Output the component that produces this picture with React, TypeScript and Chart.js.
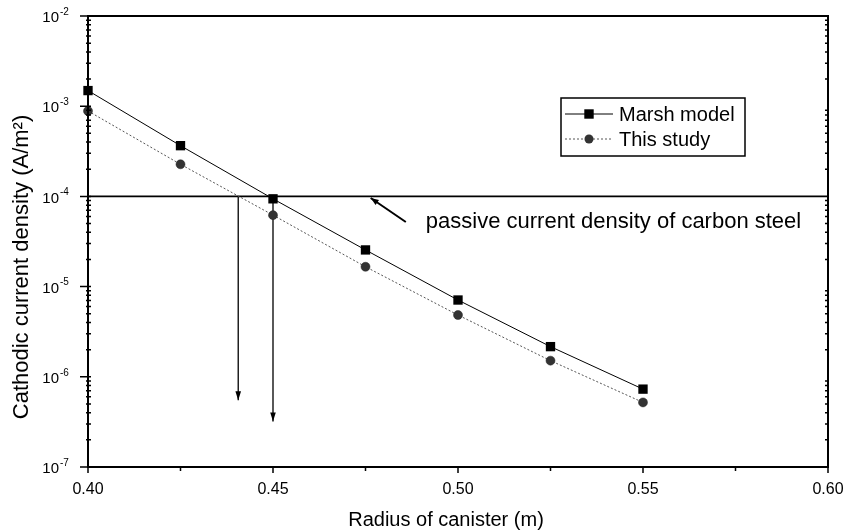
import React, { useEffect, useRef } from "react";
import { Chart, registerables } from "chart.js";
Chart.register(...registerables);

// ---- data ----
const radius = [0.4, 0.425, 0.45, 0.475, 0.5, 0.525, 0.55];
const marshModel = [1.49e-3, 3.65e-4, 9.4e-5, 2.55e-5, 7.1e-6, 2.16e-6, 7.3e-7];
const thisStudy = [8.85e-4, 2.27e-4, 6.2e-5, 1.66e-5, 4.84e-6, 1.51e-6, 5.2e-7];
const seriesNames = ["Marsh model", "This study"];
const passiveLevel = 1e-4;
const passiveRange = [0.4, 0.6];
const dropX = [0.4406, 0.45];
const dropEnd = [5.5e-7, 3.2e-7];
const noteArrowX = [0.4859, 0.4764];
const noteArrowY = [5.2e-5, 9.6e-5];
const noteText = "passive current density of carbon steel";
const noteTextX = 0.4913;
const noteTextY = 5.2e-5;
const xMajorTicks = [0.4, 0.45, 0.5, 0.55, 0.6];
const xMinorTicks = [0.425, 0.475, 0.525, 0.575];
const yExponents = [-7, -6, -5, -4, -3, -2];
const xTitle = "Radius of canister (m)";
const yTitle = "Cathodic current density (A/m²)";

const FONT = "'Liberation Sans', Arial, sans-serif";

function arrowHead(ctx: CanvasRenderingContext2D, x1: number, y1: number, x2: number, y2: number, len: number, half: number) {
  const ang = Math.atan2(y2 - y1, x2 - x1);
  ctx.beginPath();
  ctx.moveTo(x2, y2);
  ctx.lineTo(x2 - len * Math.cos(ang) + half * Math.sin(ang), y2 - len * Math.sin(ang) - half * Math.cos(ang));
  ctx.lineTo(x2 - len * Math.cos(ang) - half * Math.sin(ang), y2 - len * Math.sin(ang) + half * Math.cos(ang));
  ctx.closePath();
  ctx.fill();
}

const decor = {
  id: "decor",
  afterDraw(chart: any) {
    const { ctx, chartArea: a, scales } = chart;
    const xs = scales.x;
    const ys = scales.y;
    ctx.save();
    ctx.strokeStyle = "#000";
    ctx.fillStyle = "#000";

    // frame
    ctx.lineWidth = 2;
    ctx.strokeRect(a.left, a.top, a.right - a.left, a.bottom - a.top);

    // x ticks
    ctx.lineWidth = 1.5;
    ctx.beginPath();
    xMajorTicks.forEach((v) => {
      const px = xs.getPixelForValue(v);
      ctx.moveTo(px, a.bottom);
      ctx.lineTo(px, a.bottom + 6);
    });
    xMinorTicks.forEach((v) => {
      const px = xs.getPixelForValue(v);
      ctx.moveTo(px, a.bottom);
      ctx.lineTo(px, a.bottom + 4);
    });
    ctx.stroke();

    // y ticks (left and right)
    ctx.beginPath();
    yExponents.forEach((e) => {
      const py = ys.getPixelForValue(Math.pow(10, e));
      ctx.moveTo(a.left - 8, py);
      ctx.lineTo(a.left + 3, py);
      if (e < -2) {
        for (let m = 2; m <= 9; m++) {
          const my = ys.getPixelForValue(m * Math.pow(10, e));
          ctx.moveTo(a.left - 2, my);
          ctx.lineTo(a.left + 3, my);
          ctx.moveTo(a.right - 3, my);
          ctx.lineTo(a.right + 1, my);
        }
      }
    });
    ctx.stroke();

    // y tick labels
    yExponents.forEach((e) => {
      const py = ys.getPixelForValue(Math.pow(10, e));
      ctx.font = `15px ${FONT}`;
      ctx.textAlign = "right";
      ctx.textBaseline = "middle";
      ctx.fillText("10", a.left - 29, py + 2);
      ctx.font = `10px ${FONT}`;
      ctx.textAlign = "left";
      ctx.fillText(String(e), a.left - 28, py - 4);
    });

    // y title
    ctx.save();
    ctx.translate(22, 267);
    ctx.rotate(-Math.PI / 2);
    ctx.font = `22px ${FONT}`;
    ctx.textAlign = "center";
    ctx.textBaseline = "middle";
    ctx.fillText(yTitle, 0, 0);
    ctx.restore();

    // x title
    ctx.font = `20px ${FONT}`;
    ctx.textAlign = "center";
    ctx.textBaseline = "middle";
    ctx.fillText(xTitle, 446, 520);

    // drop arrow heads
    dropX.forEach((xv, i) => {
      const px = xs.getPixelForValue(xv);
      const py = ys.getPixelForValue(dropEnd[i]);
      arrowHead(ctx, px, py - 20, px, py, 9, 2.8);
    });

    // annotation arrow
    const tx = xs.getPixelForValue(noteArrowX[0]);
    const ty = ys.getPixelForValue(noteArrowY[0]);
    const hx = xs.getPixelForValue(noteArrowX[1]);
    const hy = ys.getPixelForValue(noteArrowY[1]);
    ctx.lineWidth = 2;
    ctx.beginPath();
    ctx.moveTo(tx, ty);
    ctx.lineTo(hx, hy);
    ctx.stroke();
    arrowHead(ctx, tx, ty, hx, hy, 8, 3);
    ctx.font = `22px ${FONT}`;
    ctx.textAlign = "left";
    ctx.textBaseline = "middle";
    ctx.fillText(noteText, xs.getPixelForValue(noteTextX), ys.getPixelForValue(noteTextY));

    // legend
    const lx = a.left + 473;
    const ly = a.top + 82;
    ctx.lineWidth = 1.5;
    ctx.strokeRect(lx, ly, 184, 58);
    const r1 = ly + 16;
    const r2 = ly + 41;
    ctx.lineWidth = 1;
    ctx.strokeStyle = "#000";
    ctx.beginPath();
    ctx.moveTo(lx + 4, r1);
    ctx.lineTo(lx + 52, r1);
    ctx.stroke();
    ctx.fillRect(lx + 28 - 4.7, r1 - 4.7, 9.4, 9.4);
    ctx.strokeStyle = "#555";
    ctx.setLineDash([2, 2]);
    ctx.beginPath();
    ctx.moveTo(lx + 4, r2);
    ctx.lineTo(lx + 52, r2);
    ctx.stroke();
    ctx.setLineDash([]);
    ctx.fillStyle = "#333";
    ctx.beginPath();
    ctx.arc(lx + 28, r2, 4.5, 0, Math.PI * 2);
    ctx.fill();
    ctx.fillStyle = "#000";
    ctx.font = `20px ${FONT}`;
    ctx.textAlign = "left";
    ctx.textBaseline = "middle";
    ctx.fillText(seriesNames[0], lx + 58, r1 + 1);
    ctx.fillText(seriesNames[1], lx + 58, r2 + 1);

    ctx.restore();
  },
};

export default function App() {
  const ref = useRef<HTMLCanvasElement | null>(null);
  useEffect(() => {
    if (!ref.current) return;
    const chart = new Chart(ref.current, {
      type: "line",
      data: {
        datasets: [
          {
            label: seriesNames[0],
            data: radius.map((r, i) => ({ x: r, y: marshModel[i] })),
            borderColor: "#000",
            borderWidth: 1,
            pointStyle: "rect",
            pointRadius: 6.6,
            pointBackgroundColor: "#000",
            pointBorderColor: "#000",
            pointBorderWidth: 0,
            clip: false,
          },
          {
            label: seriesNames[1],
            data: radius.map((r, i) => ({ x: r, y: thisStudy[i] })),
            borderColor: "#555",
            borderWidth: 1,
            borderDash: [2, 2],
            pointStyle: "circle",
            pointRadius: 4.5,
            pointBackgroundColor: "#333",
            pointBorderColor: "#222",
            pointBorderWidth: 0.5,
            clip: false,
          },
          {
            label: "passive",
            data: passiveRange.map((x) => ({ x, y: passiveLevel })),
            borderColor: "#000",
            borderWidth: 1.6,
            pointRadius: 0,
          },
          ...dropX.map((xv, i) => ({
            label: "drop" + i,
            data: [
              { x: xv, y: passiveLevel },
              { x: xv, y: dropEnd[i] },
            ],
            borderColor: "#000",
            borderWidth: 1.3,
            pointRadius: 0,
          })),
        ],
      },
      options: {
        animation: false,
        responsive: true,
        maintainAspectRatio: false,
        layout: { padding: { top: 16, right: 19, left: 0, bottom: 0 } },
        plugins: { legend: { display: false }, tooltip: { enabled: false } },
        scales: {
          x: {
            type: "linear",
            min: 0.4,
            max: 0.6,
            afterBuildTicks: (s: any) => {
              s.ticks = xMajorTicks.map((v) => ({ value: v }));
            },
            ticks: {
              callback: (v: any) => Number(v).toFixed(2),
              font: { family: FONT, size: 16 },
              color: "#000",
              padding: 13,
              maxRotation: 0,
              autoSkip: false,
            },
            grid: { display: false, drawTicks: false },
            border: { display: false },
            title: { display: false },
            afterFit: (s: any) => {
              s.height = 65;
              s.paddingLeft = 0;
              s.paddingRight = 0;
            },
          },
          y: {
            type: "logarithmic",
            min: 1e-7,
            max: 1e-2,
            ticks: { display: false },
            grid: { display: false, drawTicks: false },
            border: { display: false },
            afterFit: (s: any) => {
              s.width = 88;
            },
          },
        },
      } as any,
      plugins: [decor],
    });
    return () => chart.destroy();
  }, []);
  return (
    <div style={{ position: "absolute", left: 0, top: 0, width: 847, height: 532, background: "#fff" }}>
      <canvas ref={ref} />
    </div>
  );
}
